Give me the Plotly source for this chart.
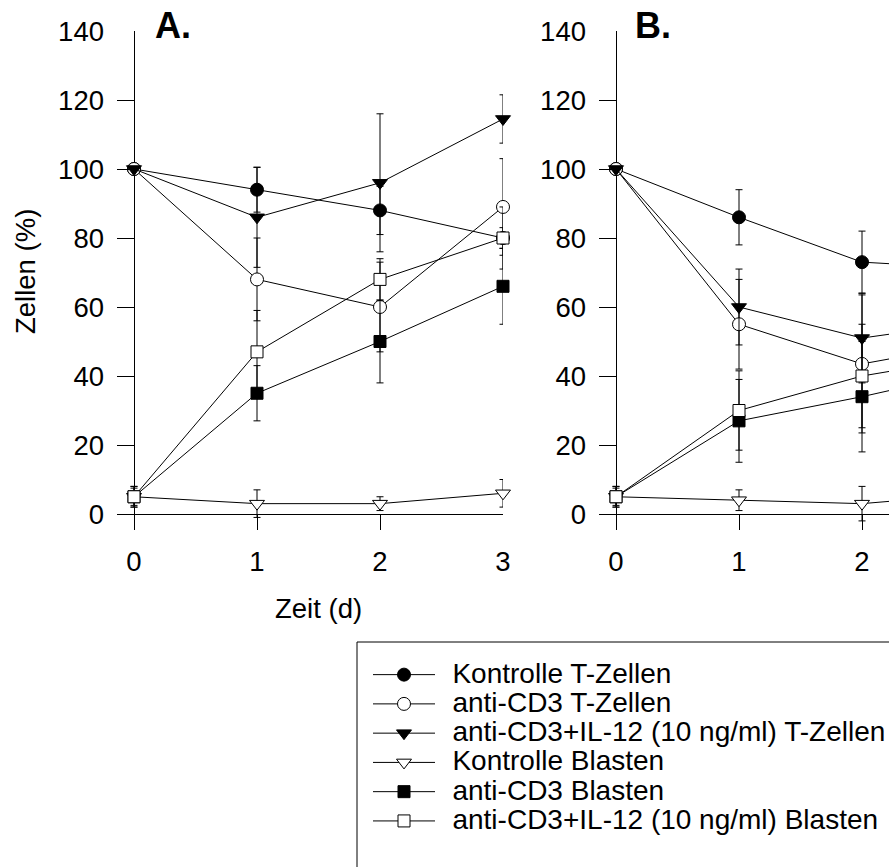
import plotly.graph_objects as go

# Time points (days)
days = [0, 1, 2, 3]

labels = [
    "Kontrolle T-Zellen",
    "anti-CD3 T-Zellen",
    "anti-CD3+IL-12 (10 ng/ml) T-Zellen",
    "Kontrolle Blasten",
    "anti-CD3 Blasten",
    "anti-CD3+IL-12 (10 ng/ml) Blasten",
]

# Panel A: cell counts (% of start) and error
a_kontrolle_t = [100, 94, 88, 80]
a_kontrolle_t_err = [0, 6.5, 7, 3]
a_cd3_t = [100, 68, 60, 89]
a_cd3_t_err = [0, 12, 13, 14]
a_il12_t = [100, 86, 96, 114.5]
a_il12_t_err = [0, 14.5, 20, 7]
a_kontrolle_bl = [5, 3, 3, 6]
a_kontrolle_bl_err = [3, 4, 2, 4]
a_cd3_bl = [5, 35, 50, 66]
a_cd3_bl_err = [3, 8, 12, 11]
a_il12_bl = [5, 47, 68, 80]
a_il12_bl_err = [2.5, 12, 6, 9]

# Panel B
b_kontrolle_t = [100, 86, 73, 71]
b_kontrolle_t_err = [0, 8, 9, 0]
b_cd3_t = [100, 55, 43.5, 50]
b_cd3_t_err = [0, 13, 20, 0]
b_il12_t = [100, 60, 51, 56]
b_il12_t_err = [0, 11, 13, 0]
b_kontrolle_bl = [5, 4, 3, 6]
b_kontrolle_bl_err = [3, 3, 5, 0]
b_cd3_bl = [5, 27, 34, 42]
b_cd3_bl_err = [3, 12, 16, 0]
b_il12_bl = [5, 30, 40, 46]
b_il12_bl_err = [2.5, 11.5, 15, 0]

y_ticks = [0, 20, 40, 60, 80, 100, 120, 140]

styles = [
    dict(symbol="circle", color="black", size=13),
    dict(symbol="circle", color="white", size=13),
    dict(symbol="triangle-down", color="black", size=13),
    dict(symbol="triangle-down", color="white", size=13),
    dict(symbol="square", color="black", size=12),
    dict(symbol="square", color="white", size=12),
]

panel_a = [
    (a_kontrolle_t, a_kontrolle_t_err),
    (a_cd3_t, a_cd3_t_err),
    (a_il12_t, a_il12_t_err),
    (a_kontrolle_bl, a_kontrolle_bl_err),
    (a_cd3_bl, a_cd3_bl_err),
    (a_il12_bl, a_il12_bl_err),
]
panel_b = [
    (b_kontrolle_t, b_kontrolle_t_err),
    (b_cd3_t, b_cd3_t_err),
    (b_il12_t, b_il12_t_err),
    (b_kontrolle_bl, b_kontrolle_bl_err),
    (b_cd3_bl, b_cd3_bl_err),
    (b_il12_bl, b_il12_bl_err),
]

FONT = "Liberation Sans, Arial, Helvetica, sans-serif"
W, H = 889, 867


def px(x):
    return x / W


def py(y):
    return 1 - y / H


fig = go.Figure()

for panel, (xa, ya), show in ((panel_a, ("x", "y"), True), (panel_b, ("x2", "y2"), False)):
    for (vals, err), st, lab in zip(panel, styles, labels):
        fig.add_trace(go.Scatter(
            x=days, y=vals, xaxis=xa, yaxis=ya,
            mode="lines+markers",
            name='<span style="font-size:28px">\u00a0\u2006' + lab + "</span>",
            showlegend=show,
            cliponaxis=False,
            line=dict(color="black", width=1),
            marker=dict(symbol=st["symbol"], size=st["size"], color=st["color"],
                        line=dict(color="black", width=1)),
            error_y=dict(type="data", array=err, visible=True, color="black",
                         thickness=1, width=3.5),
        ))

axis_common = dict(
    showgrid=False, showline=False, zeroline=True, zerolinecolor="black",
    zerolinewidth=1, ticks="inside", tickcolor="black", tickwidth=1,
    tickfont=dict(family=FONT, size=27.5, color="black"),
)

fig.update_layout(
    width=W, height=H,
    margin=dict(l=0, r=0, t=0, b=0, autoexpand=False),
    paper_bgcolor="white", plot_bgcolor="white",
    font=dict(family=FONT, color="black"),
    xaxis=dict(domain=[px(117), px(503)], range=[-17 / 123, 3], tickvals=[0, 1, 2, 3],
               ticklen=16, ticklabelstandoff=12, anchor="y", **axis_common),
    yaxis=dict(domain=[py(530), py(31)], range=[-16 / 3.45, 140], tickvals=y_ticks,
               ticklen=17, ticklabelstandoff=12, anchor="x", **axis_common),
    xaxis2=dict(domain=[px(599), 1.0], range=[-17 / 123, (889 - 616) / 123], tickvals=[0, 1, 2],
                ticklen=16, ticklabelstandoff=12, anchor="y2", **axis_common),
    yaxis2=dict(domain=[py(530), py(31)], range=[-16 / 3.45, 140], tickvals=y_ticks,
                ticklen=17, ticklabelstandoff=12, anchor="x2", **axis_common),
    legend=dict(
        x=px(368), y=py(655), xanchor="left", yanchor="top",
        font=dict(family=FONT, size=20.2, color="black"),
        bgcolor="rgba(0,0,0,0)", borderwidth=0,
        itemwidth=62, itemsizing="trace", tracegroupgap=0,
    ),
    shapes=[
        dict(type="rect", xref="paper", yref="paper",
             x0=px(357), x1=1.05, y0=py(642), y1=-0.05,
             line=dict(color="black", width=1), fillcolor="rgba(0,0,0,0)"),
    ],
    annotations=[
        dict(text="<b>A.</b>", x=px(153), y=py(26), xref="paper", yref="paper",
             xanchor="left", yanchor="middle", showarrow=False,
             font=dict(family=FONT, size=36, color="black")),
        dict(text="<b>B.</b>", x=px(633), y=py(26), xref="paper", yref="paper",
             xanchor="left", yanchor="middle", showarrow=False,
             font=dict(family=FONT, size=36, color="black")),
        dict(text="Zeit (d)", x=px(318), y=py(608), xref="paper", yref="paper",
             xanchor="center", yanchor="middle", showarrow=False,
             font=dict(family=FONT, size=27.5, color="black")),
        dict(text="Zellen (%)", x=px(25), y=py(272), xref="paper", yref="paper",
             xanchor="center", yanchor="middle", showarrow=False, textangle=-90,
             font=dict(family=FONT, size=27.5, color="black")),
    ],
)

fig.write_html("out.html")
